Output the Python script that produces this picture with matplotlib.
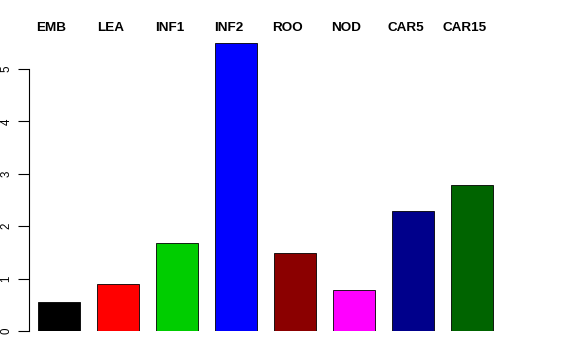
import matplotlib
matplotlib.use("Agg")
import matplotlib.pyplot as plt
from matplotlib.transforms import blended_transform_factory

categories = ["EMB", "LEA", "INF1", "INF2", "ROO", "NOD", "CAR5", "CAR15"]
values = [0.55, 0.90, 1.68, 5.50, 1.49, 0.78, 2.29, 2.79]
colors = ["#000000", "#FF0000", "#00CD00", "#0000FF", "#8B0000", "#FF00FF", "#00008B", "#006400"]
yticks = [0, 1, 2, 3, 4, 5]

W, H = 576, 360
fig = plt.figure(figsize=(W / 100, H / 100), dpi=100)

# axes in pixel geometry
px_left, px_right = 29, 540
px_bottom = 331
unit = 52.4
px_top = px_bottom - 5.5 * unit
ax = fig.add_axes([px_left / W, (H - px_bottom) / H, (px_right - px_left) / W, (px_bottom - px_top) / H])

step = 59.0
x0 = -(59 - px_left) / step
x1 = (px_right - 59) / step
xs = list(range(len(categories)))
ax.bar(xs, values, width=42 / 59, color=colors, edgecolor="black", linewidth=0.6)
ax.set_xlim(x0, x1)
ax.set_ylim(0, 5.5)

for s in ["top", "right", "bottom"]:
    ax.spines[s].set_visible(False)
ax.spines["left"].set_bounds(0, 5)
ax.spines["left"].set_linewidth(0.8)
ax.set_xticks([])
ax.set_yticks(yticks)
ax.set_yticklabels([str(t) for t in yticks], rotation=90, va="center",
                   fontsize=8.3, family="Liberation Sans")
ax.tick_params(axis="y", length=8, width=0.8, pad=4)

trans = blended_transform_factory(ax.transData, fig.transFigure)
for x, c in zip(xs, categories):
    ax.text(x - 7.5 / step, (H - 28) / H, c, transform=trans, ha="center", va="center",
            fontsize=9.7, fontweight="bold", family="Liberation Sans")

fig.savefig("out.png", dpi=100)
